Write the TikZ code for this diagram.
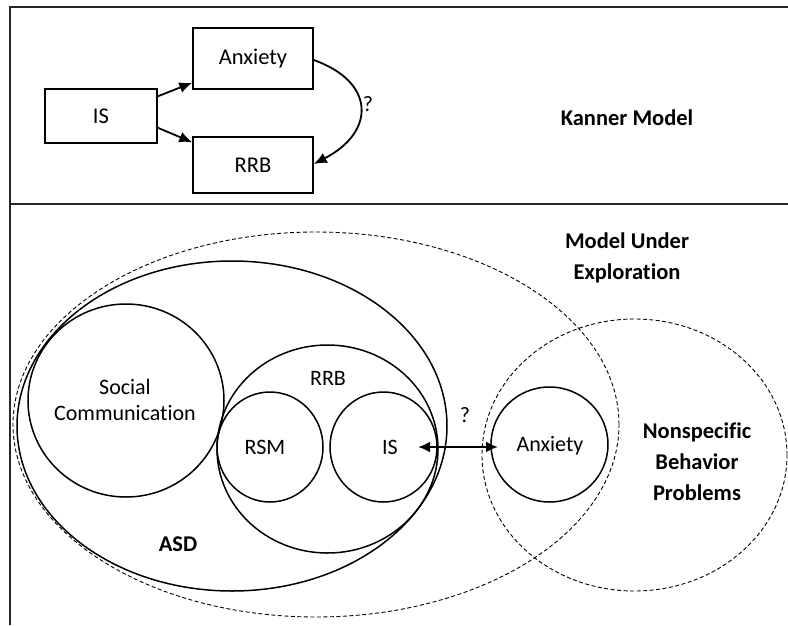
\documentclass[tikz,border=0pt]{standalone}
\usepackage{fontspec}
\setmainfont{Carlito}[Ligatures=NoCommon]
\usetikzlibrary{shapes.geometric,arrows.meta,calc}
\begin{document}
\begin{tikzpicture}[x=1pt,y=-1pt,
  frame/.style={line width=1.6pt, draw=black!85},
  box/.style={draw, line width=1.4pt, inner sep=0pt, font=\fontsize{22.5}{26}\selectfont},
  ring/.style={draw, ellipse, line width=1.5pt, inner sep=0pt},
  dring/.style={draw, ellipse, line width=0.9pt, dash pattern=on 4pt off 2.5pt, inner sep=0pt},
  lab/.style={inner sep=0pt, align=center, font=\fontsize{22}{26}\selectfont},
  blab/.style={inner sep=0pt, align=center, font=\fontsize{22.5}{31}\selectfont\bfseries},
  arr/.style={-{Latex[length=13pt,width=11pt]}, line width=1.8pt},
  darr/.style={{Latex[length=12pt,width=11pt]}-{Latex[length=12pt,width=11pt]}, line width=2.4pt}
]
\useasboundingbox (0,0) rectangle (788,625);
% frame
\draw[frame] (788,7) -- (10,7) -- (10,625);
\draw[frame] (10,204) -- (788,204);

% ---- Kanner model ----
\node[box, minimum width=112pt, minimum height=54pt] (kIS) at (101,116) {IS};
\node[box, minimum width=120pt, minimum height=61pt] (kAnx) at (253,58.5) {Anxiety};
\node[box, minimum width=120pt, minimum height=56pt] (kRRB) at (253,165) {RRB};
\draw[arr] ($(kIS.north east)+(0,8)$) -- ($(kAnx.south west)+(0,-7)$);
\draw[arr] ($(kIS.south east)+(0,-16)$) -- ($(kRRB.north west)+(0,6)$);
\draw[arr] ($(kAnx.east)+(0,1.5)$) .. controls +(62,22) and +(62,-32) .. ($(kRRB.east)+(0,-1)$);
\node[lab] (kq) at (368,104) {?};
\node[blab] (kanner) at (627,118) {Kanner Model};

% ---- Model under exploration ----
\node[dring, minimum width=606pt, minimum height=385pt] (mue) at (316,424.5) {};
\node[dring, minimum width=305pt, minimum height=272pt] (nbp) at (634.5,455) {};
\node[ring, minimum width=430pt, minimum height=330pt] (asd) at (232,426) {};
\node[ring, minimum width=196pt, minimum height=193pt] (soc) at (126,400.5) {};
\node[ring, minimum width=221pt, minimum height=208pt] (rrb) at (327.5,449) {};
\node[ring, minimum width=106pt, minimum height=110pt] (rsm) at (270,447) {};
\node[ring, minimum width=107pt, minimum height=110pt] (is) at (383.5,447) {};
\node[ring, minimum width=117pt, minimum height=115pt] (anx) at (549.5,444.5) {};

\node[lab] (socT) at (125,400) {Social\\Communication};
\node[lab] (rrbT) at (328,378) {RRB};
\node[lab] (rsmT) at (265,447) {RSM};
\node[lab] (isT) at (390,447) {IS};
\node[lab] (anxT) at (550,446) {Anxiety};
\node[lab] (q2) at (465,415) {?};
\node[blab] (asdT) at (178,544) {ASD};
\node[blab] (mueT) at (627,257.5) {Model Under\\Exploration};
\node[blab] (nbpT) at (697,461.5) {Nonspecific\\Behavior\\Problems};

\coordinate (dl) at (418,447);
\coordinate (dr) at (498,447);
\draw[darr] (dl) -- (dr);
\end{tikzpicture}
\end{document}
